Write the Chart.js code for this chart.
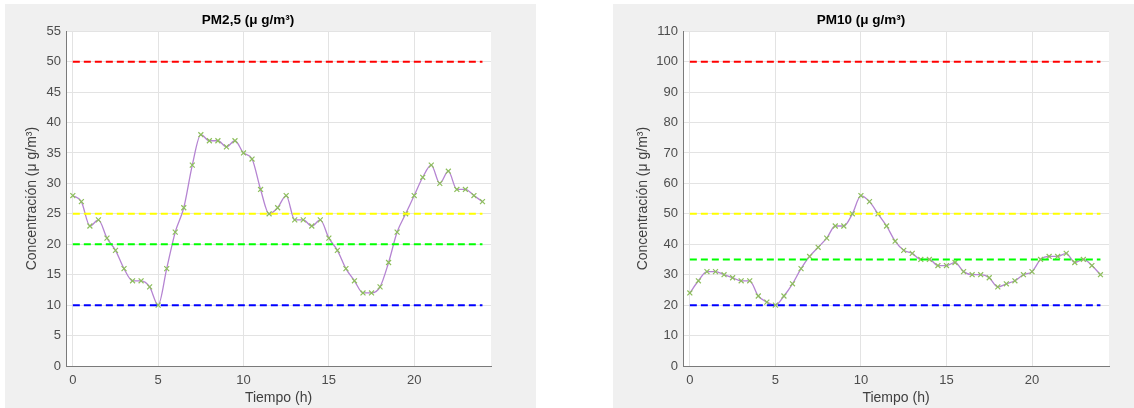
<!DOCTYPE html>
<html>
<head>
<meta charset="utf-8">
<script src="https://cdn.jsdelivr.net/npm/chart.js@4.4.1/dist/chart.umd.min.js"></script>
<style>
  html, body { margin: 0; padding: 0; background: #fff; }
  body { width: 1134px; height: 408px; position: relative; overflow: hidden; }
  .panel { position: absolute; background: #f0f0f0; }
  #leftPanel { left: 5px; top: 4px; width: 531px; height: 404px; }
  #rightPanel { left: 613px; top: 4px; width: 521px; height: 404px; }
</style>
</head>
<body>
<div class="panel" id="leftPanel"><canvas id="pm25Chart" width="531" height="404"></canvas></div>
<div class="panel" id="rightPanel"><canvas id="pm10Chart" width="521" height="404"></canvas></div>
<script>
// hours of the day, sampled every half hour
const hours = [0, 0.5, 1, 1.5, 2, 2.5, 3, 3.5, 4, 4.5, 5, 5.5, 6, 6.5, 7, 7.5, 8, 8.5, 9, 9.5,
    10, 10.5, 11, 11.5, 12, 12.5, 13, 13.5, 14, 14.5, 15, 15.5, 16, 16.5, 17, 17.5, 18, 18.5, 19, 19.5,
    20, 20.5, 21, 21.5, 22, 22.5, 23, 23.5, 24];

const pm25 = [28, 27, 23, 24, 21, 19, 16, 14, 14, 13, 10, 16, 22, 26, 33, 38, 37, 37, 36, 37,
    35, 34, 29, 25, 26, 28, 24, 24, 23, 24, 21, 19, 16, 14, 12, 12, 13, 17, 22, 25,
    28, 31, 33, 30, 32, 29, 29, 28, 27];

const pm10 = [24, 28, 31, 31, 30, 29, 28, 28, 23, 21, 20, 23, 27, 32, 36, 39, 42, 46, 46, 50,
    56, 54, 50, 46, 41, 38, 37, 35, 35, 33, 33, 34, 31, 30, 30, 29, 26, 27, 28, 30,
    31, 35, 36, 36, 37, 34, 35, 33, 30];

// reference limits (red, yellow, green, blue)
const pm25Limits = [50, 25, 20, 10];
const pm10Limits = [100, 50, 35, 20];
const limitColors = ['#ff0000', '#ffff00', '#00ff00', '#0000ff'];

const xTicks = [0, 5, 10, 15, 20];

const tickFont = { family: 'Liberation Sans, Arial, sans-serif', size: 13 };
const labelFont = { family: 'Liberation Sans, Arial, sans-serif', size: 14 };

// white plot box on the grey figure background
const plotBackground = {
    id: 'plotBackground',
    beforeDraw(chart) {
        const { ctx, chartArea } = chart;
        ctx.save();
        ctx.fillStyle = '#ffffff';
        ctx.fillRect(chartArea.left, chartArea.top, chartArea.width, chartArea.height);
        ctx.restore();
    }
};

/**
 * Builds one MATLAB-like panel with the measured series and the limit lines
 */
function createPanel(canvasId, title, values, limits, yMax, yStep, yAxisWidth, rightPad, yTitlePad) {
    const ctx = document.getElementById(canvasId).getContext('2d');

    const limitSets = limits.map((v, i) => ({
        data: [{ x: hours[0], y: v }, { x: hours[hours.length - 1], y: v }],
        borderColor: limitColors[i],
        borderWidth: 2,
        borderDash: [7, 4],
        pointRadius: 0,
        tension: 0
    }));

    const series = {
        data: hours.map((h, i) => ({ x: h, y: values[i] })),
        borderColor: '#b584d2',
        borderWidth: 1.3,
        cubicInterpolationMode: 'monotone',
        pointStyle: 'crossRot',
        pointRadius: 3.5,
        pointBorderColor: '#8dbf5c',
        pointBorderWidth: 1.2,
        pointBackgroundColor: '#8dbf5c'
    };

    return new Chart(ctx, {
        type: 'line',
        data: { datasets: [...limitSets, series] },
        plugins: [plotBackground],
        options: {
            responsive: false,
            animation: false,
            layout: { padding: { left: 0, right: rightPad, top: 0, bottom: 0 } },
            plugins: {
                legend: { display: false },
                tooltip: { enabled: false },
                title: {
                    display: true,
                    text: title,
                    color: '#000',
                    font: { family: 'Liberation Sans, Arial, sans-serif', size: 13.5, weight: 'bold' },
                    padding: { top: 8, bottom: 3 }
                }
            },
            scales: {
                x: {
                    type: 'linear',
                    min: -0.4,
                    max: 24.5,
                    afterBuildTicks: (scale) => { scale.ticks = xTicks.map(v => ({ value: v })); },
                    afterFit: (scale) => { scale.height = 42; },
                    ticks: { color: '#4d4d4d', font: tickFont, padding: 7, maxRotation: 0 },
                    grid: { color: '#e3e3e3', drawTicks: false },
                    border: { color: '#7a7a7a', width: 1 },
                    title: {
                        display: true,
                        text: 'Tiempo (h)',
                        color: '#404040',
                        font: labelFont,
                        padding: { top: 0, bottom: 1.6 }
                    }
                },
                y: {
                    min: 0,
                    max: yMax,
                    afterFit: (scale) => { scale.width = yAxisWidth; },
                    ticks: { stepSize: yStep, color: '#4d4d4d', font: tickFont, padding: 5 },
                    grid: { color: '#e3e3e3', drawTicks: false },
                    border: { color: '#7a7a7a', width: 1 },
                    title: {
                        display: true,
                        text: 'Concentración (μ g/m³)',
                        color: '#404040',
                        font: labelFont,
                        padding: { top: yTitlePad, bottom: 0 }
                    }
                }
            }
        }
    });
}

createPanel('pm25Chart', 'PM2,5 (μ g/m³)', pm25, pm25Limits, 55, 5, 61, 45, 18.6);
createPanel('pm10Chart', 'PM10 (μ g/m³)', pm10, pm10Limits, 110, 10, 70, 25, 21.6);
</script>
</body>
</html>
